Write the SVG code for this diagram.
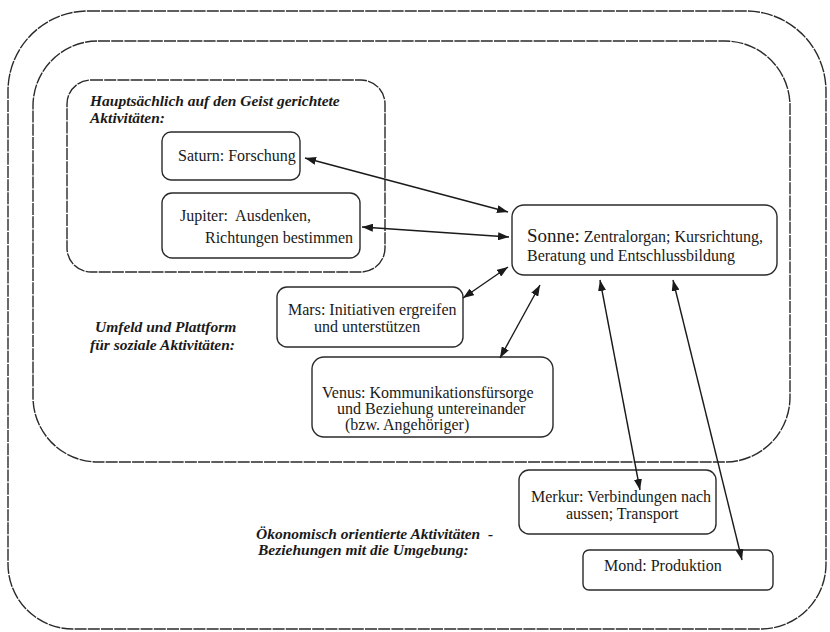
<svg xmlns="http://www.w3.org/2000/svg" width="830" height="632" viewBox="0 0 830 632">
<style>
.bound{fill:none;stroke:#2a2a2a;stroke-width:1.4;stroke-dasharray:12 1.2}
.box{fill:#fff;stroke:#2a2a2a;stroke-width:1.4}
.t{font-family:"Liberation Serif","Times New Roman",serif;font-size:16px;fill:#1a1a1a}
.h{font-family:"Liberation Serif","Times New Roman",serif;font-size:15.5px;font-weight:bold;font-style:italic;fill:#1a1a1a}
.c{fill:none;stroke:#1a1a1a;stroke-width:1.4;marker-start:url(#ah);marker-end:url(#ah)}
</style>
<defs>
<marker id="ah" markerUnits="userSpaceOnUse" markerWidth="11" markerHeight="8" refX="11" refY="4" orient="auto-start-reverse">
<path d="M0,0 L11,4 L0,8 z" fill="#1a1a1a"/>
</marker>
</defs>
<rect width="830" height="632" fill="#fff"/>
<g id="bereich-oekonomisch">
<path class="bound" d="M 88 11 H 746 A 80 80 0 0 1 826 91 V 564 A 65 65 0 0 1 761 629 H 73 A 65 65 0 0 1 8 564 V 91 A 80 80 0 0 1 88 11 Z"/>
<text class="h" x="256" y="539" xml:space="preserve">Ökonomisch orientierte Aktivitäten  -</text>
<text class="h" x="258" y="555">Beziehungen mit die Umgebung:</text>
</g>
<g id="bereich-sozial">
<rect class="bound" x="33" y="41" width="757" height="421" rx="65"/>
<text class="h" x="95" y="332">Umfeld und Plattform</text>
<text class="h" x="90" y="350">für soziale Aktivitäten:</text>
</g>
<g id="bereich-geist">
<rect class="bound" x="67" y="80" width="318" height="192" rx="24"/>
<text class="h" x="90" y="106">Hauptsächlich auf den Geist gerichtete</text>
<text class="h" x="90" y="123">Aktivitäten:</text>
</g>
<g id="saturn">
<rect class="box" x="162" y="132" width="138" height="48" rx="9"/>
<text class="t" x="178" y="161">Saturn: Forschung</text>
</g>
<g id="jupiter">
<rect class="box" x="162" y="193" width="198" height="65" rx="10"/>
<text class="t" x="180" y="221" xml:space="preserve">Jupiter:  Ausdenken,</text>
<text class="t" x="205" y="243">Richtungen bestimmen</text>
</g>
<g id="sonne">
<rect class="box" x="512" y="205" width="265" height="70" rx="12"/>
<text class="t" x="527" y="242"><tspan font-size="19">Sonne:</tspan> Zentralorgan; Kursrichtung,</text>
<text class="t" x="527" y="261">Beratung und Entschlussbildung</text>
</g>
<g id="mars">
<rect class="box" x="277" y="287" width="186" height="60" rx="10"/>
<text class="t" x="288" y="315">Mars: Initiativen ergreifen</text>
<text class="t" x="314" y="332">und unterstützen</text>
</g>
<g id="venus">
<rect class="box" x="312" y="357" width="241" height="80" rx="12"/>
<text class="t" x="322" y="398">Venus: Kommunikationsfürsorge</text>
<text class="t" x="337" y="414">und Beziehung untereinander</text>
<text class="t" x="345" y="430">(bzw. Angehöriger)</text>
</g>
<g id="merkur">
<rect class="box" x="519" y="470" width="197" height="64" rx="10"/>
<text class="t" x="531" y="502">Merkur: Verbindungen nach</text>
<text class="t" x="566" y="519">aussen; Transport</text>
</g>
<g id="mond">
<rect class="box" x="583" y="550" width="190" height="40" rx="6"/>
<text class="t" x="604" y="571">Mond: Produktion</text>
</g>
<g id="connectors">
<line class="c" x1="305" y1="158" x2="508" y2="212"/>
<line class="c" x1="362" y1="227" x2="509" y2="237"/>
<line class="c" x1="463" y1="298" x2="508" y2="267"/>
<line class="c" x1="500" y1="358" x2="540" y2="285"/>
<line class="c" x1="600" y1="280" x2="640" y2="490"/>
<line class="c" x1="673" y1="280" x2="742" y2="560"/>
</g>
</svg>
